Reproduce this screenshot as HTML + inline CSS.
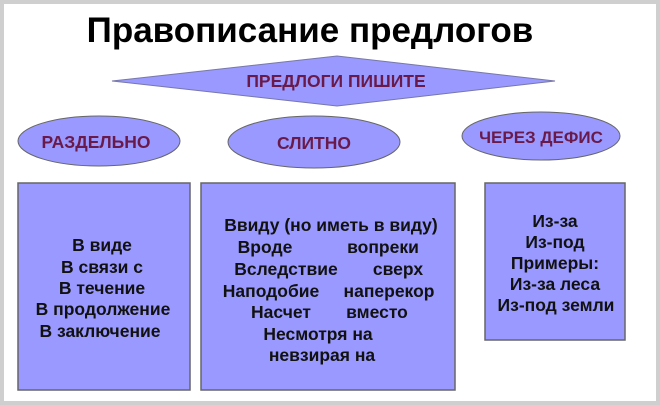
<!DOCTYPE html>
<html><head><meta charset="utf-8"><style>
html,body{margin:0;padding:0;background:#fff}
svg{display:block}
text{font-family:"Liberation Sans","Noto Sans CJK SC",sans-serif;font-weight:bold}
</style></head><body>
<svg width="660" height="405" viewBox="0 0 660 405">
<rect x="0" y="0" width="660" height="405" fill="#cfcfcf"/>
<rect x="4" y="4" width="652" height="397" fill="#fff"/>
<text x="310" y="42" font-size="35" text-anchor="middle" fill="#000">Правописание предлогов</text>
<polygon points="112,81 337,56 555,81 337,106" fill="#9999ff" stroke="#7777aa" stroke-width="1"/>
<text x="336" y="87" font-size="17.5" text-anchor="middle" fill="#6a1a4a">ПРЕДЛОГИ ПИШИТЕ</text>
<ellipse cx="99" cy="141" rx="81" ry="25" fill="#9999ff" stroke="#666" stroke-width="1"/>
<ellipse cx="314" cy="142" rx="86" ry="26" fill="#9999ff" stroke="#666" stroke-width="1"/>
<ellipse cx="541" cy="136" rx="79" ry="24" fill="#9999ff" stroke="#666" stroke-width="1"/>
<text x="96" y="148" font-size="17.5" text-anchor="middle" fill="#6a1a4a">РАЗДЕЛЬНО</text>
<text x="314" y="149" font-size="17.5" text-anchor="middle" fill="#6a1a4a">СЛИТНО</text>
<text x="541" y="143" font-size="17" text-anchor="middle" fill="#6a1a4a">ЧЕРЕЗ ДЕФИС</text>
<rect x="18" y="183" width="172" height="207" fill="#9999ff" stroke="#666" stroke-width="1.5"/>
<rect x="201" y="183" width="254" height="207" fill="#9999ff" stroke="#666" stroke-width="1.5"/>
<rect x="485" y="183" width="140" height="157" fill="#9999ff" stroke="#666" stroke-width="1.5"/>
<g font-size="17.5" fill="#111" text-anchor="middle">
<text x="102" y="251">В виде</text>
<text x="102" y="273">В связи с</text>
<text x="102" y="294">В течение</text>
<text x="103" y="315">В продолжение</text>
<text x="100" y="337">В заключение</text>
<text x="331" y="231">Ввиду (но иметь в виду)</text>
<text x="265" y="253">Вроде</text><text x="383" y="253">вопреки</text>
<text x="286" y="275">Вследствие</text><text x="398" y="275">сверх</text>
<text x="271" y="297">Наподобие</text><text x="389" y="297">наперекор</text>
<text x="281" y="318">Насчет</text><text x="377" y="318">вместо</text>
<text x="318" y="340">Несмотря на</text>
<text x="322" y="361">невзирая на</text>
<text x="555" y="227">Из-за</text>
<text x="555" y="248">Из-под</text>
<text x="555" y="269">Примеры:</text>
<text x="555" y="290">Из-за леса</text>
<text x="556" y="311">Из-под земли</text>
</g>
</svg>
</body></html>
